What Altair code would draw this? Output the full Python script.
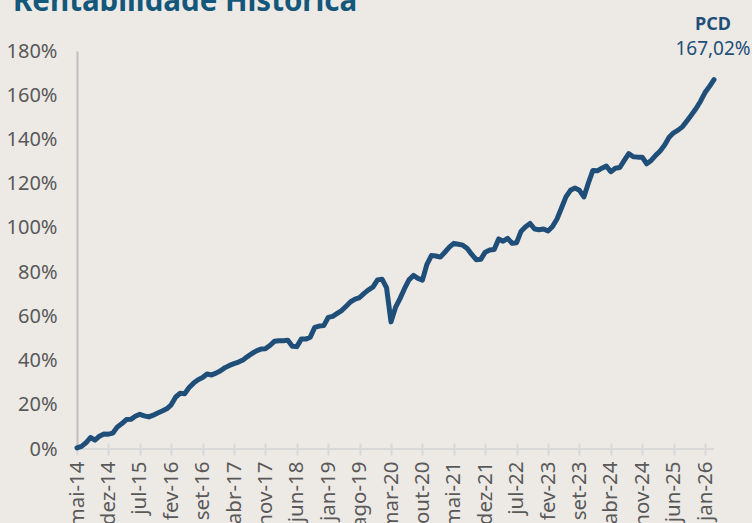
import altair as alt
import pandas as pd

meses = ["jan", "fev", "mar", "abr", "mai", "jun", "jul", "ago", "set", "out", "nov", "dez"]
n_points = 143
labels = [f"{meses[(4 + i) % 12]}-{(14 + (4 + i) // 12):02d}" for i in range(n_points)]

valores = [
    0.5, 1.2, 2.8, 5.2, 4.0, 5.8, 6.8, 6.7, 7.2, 10.0,
    11.5, 13.3, 13.4, 14.8, 15.7, 15.0, 14.5, 15.3, 16.3, 17.2,
    18.2, 20.0, 23.5, 25.2, 25.0, 27.8, 29.8, 31.3, 32.3, 33.9,
    33.5, 34.3, 35.4, 36.8, 37.8, 38.6, 39.3, 40.3, 41.8, 43.2,
    44.4, 45.2, 45.3, 46.8, 48.7, 49.0, 49.0, 49.2, 46.5, 46.3,
    49.7, 49.7, 50.6, 55.0, 55.6, 55.8, 59.5, 60.0, 61.3, 62.6,
    64.6, 66.6, 67.8, 68.5, 70.4, 72.0, 73.3, 76.5, 76.8, 73.0,
    57.5, 64.0, 68.0, 72.5, 76.5, 78.5, 77.2, 76.4, 83.5, 87.5,
    87.3, 86.8, 89.0, 91.3, 93.0, 92.6, 92.2, 90.7, 88.0, 85.6,
    85.8, 89.0, 90.0, 90.2, 95.0, 94.0, 95.3, 93.0, 93.3, 98.5,
    100.5, 102.0, 99.5, 99.2, 99.5, 98.6, 100.6, 104.0, 109.0, 114.0,
    117.0, 118.0, 117.0, 114.0, 120.3, 126.0, 125.8, 127.0, 128.0, 125.4,
    127.0, 127.3, 130.5, 133.6, 132.2, 132.0, 132.0, 129.0, 130.5, 132.8,
    134.8, 137.5, 141.0, 143.0, 144.2, 145.8, 148.5, 151.2, 154.0, 157.3,
    161.2, 164.0, 167.02,
]

tick_labels = labels[::7]
y_ticks = [0, 20, 40, 60, 80, 100, 120, 140, 160, 180]

titulo = "Rentabilidade Histórica"
serie_nome = "PCD"
ultimo_texto = "167,02%"

df = pd.DataFrame({"mes": labels, "valor": valores})

W, H = 637, 398
LINE_COLOR = "#1F4E79"
LABEL_COLOR = "#595959"
FONT = "Noto Sans"

x_enc = alt.X(
    "mes:O",
    sort=labels,
    scale=alt.Scale(type="point", padding=0),
    axis=alt.Axis(
        title=None,
        values=tick_labels,
        labelAngle=270,
        labelAlign="right",
        labelBaseline="middle",
        labelFontSize=20.5,
        labelFont=FONT,
        labelColor=LABEL_COLOR,
        labelPadding=6,
        tickSize=12,
        tickColor="#D9D9D9",
        tickWidth=2,
        domain=False,
        offset=-6,
        grid=False,
    ),
)

y_enc = alt.Y(
    "valor:Q",
    scale=alt.Scale(domain=[0, 180], nice=False, zero=True),
    axis=alt.Axis(
        title=None,
        values=y_ticks,
        labelExpr="datum.value + '%'",
        labelFontSize=20,
        labelFont=FONT,
        labelColor=LABEL_COLOR,
        labelPadding=20,
        ticks=False,
        tickSize=0,
        domainColor="#BFBFBF",
        domainWidth=2,
        grid=False,
    ),
)

base_rule = alt.Chart(pd.DataFrame({"v": [0]})).mark_rule(
    color="#D9D9D9", strokeWidth=2
).encode(y=alt.Y("v:Q", scale=alt.Scale(domain=[0, 180], nice=False)))

line = alt.Chart(df).mark_line(
    color=LINE_COLOR, strokeWidth=5, strokeJoin="round", strokeCap="round"
).encode(x=x_enc, y=y_enc)

title_text = alt.Chart(pd.DataFrame({"t": [titulo]})).mark_text(
    align="left", baseline="alphabetic", font=FONT, fontSize=29.5,
    fontWeight="bold", color="#13587B"
).encode(text="t:N", x=alt.value(-64), y=alt.value(-40))

pcd_text = alt.Chart(pd.DataFrame({"t": [serie_nome]})).mark_text(
    align="center", baseline="alphabetic", font=FONT, fontSize=18,
    fontWeight="bold", color=LINE_COLOR
).encode(text="t:N", x=alt.value(636), y=alt.value(-21))

val_text = alt.Chart(pd.DataFrame({"t": [ultimo_texto]})).mark_text(
    align="center", baseline="alphabetic", font=FONT, fontSize=19,
    color=LINE_COLOR
).encode(text="t:N", x=alt.value(636), y=alt.value(4))

chart = alt.layer(base_rule, line, title_text, pcd_text, val_text).properties(
    width=W,
    height=H,
    background="#EDEAE6",
    padding={"left": 77, "top": 51, "right": 38, "bottom": 74},
    autosize=alt.AutoSizeParams(type="none"),
).configure_view(stroke=None)

chart.save("out.html", embed_options={"renderer": "svg", "actions": False})
